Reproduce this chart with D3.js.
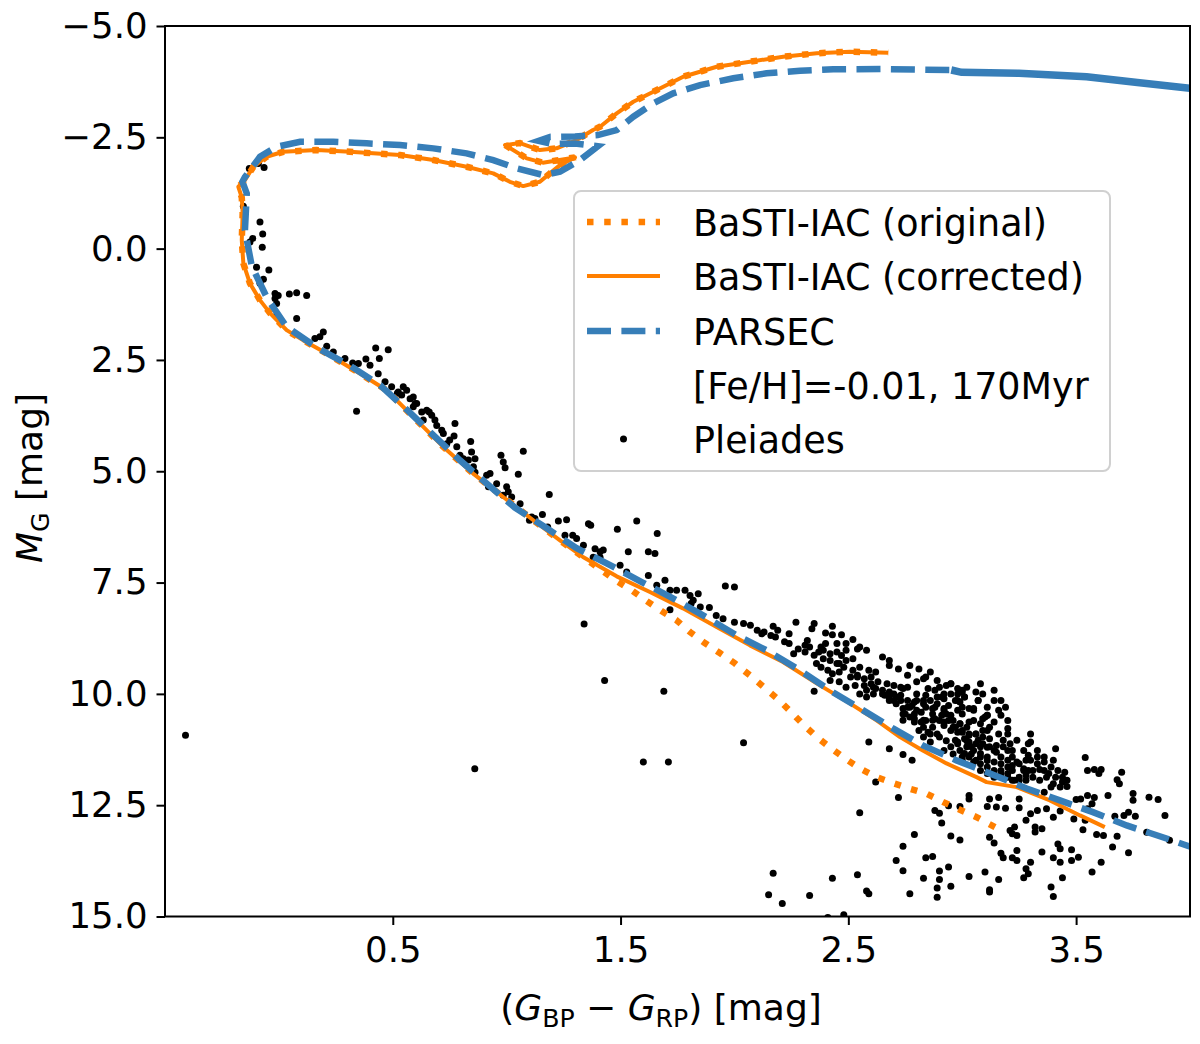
<!DOCTYPE html>
<html>
<head>
<meta charset="utf-8">
<script src="https://cdn.jsdelivr.net/npm/d3@7"></script>
<style>
  body { margin: 0; background: #fff; }
  text { font-family: "DejaVu Sans", sans-serif; fill: #000; }
</style>
</head>
<body>
<svg id="chart" width="1200" height="1044"></svg>
<script>
// axis ticks
var xTicks = [0.5, 1.5, 2.5, 3.5];
var yTicks = [-5, -2.5, 0, 2.5, 5, 7.5, 10, 12.5, 15];

var legendLabels = ["BaSTI-IAC (original)", "BaSTI-IAC (corrected)", "PARSEC",
	"[Fe/H]=-0.01, 170Myr", "Pleiades"];

// BaSTI-IAC isochrone above the point where original and corrected split;
// [BP-RP, M_G], ordered from the upper main sequence to the AGB end
var bastiUpper = [
	[1.335, 6.926], [1.234, 6.551], [1.117, 6.101], [0.985, 5.578], [0.853, 5.052],
	[0.722, 4.454], [0.590, 3.780], [0.473, 3.180], [0.356, 2.804], [0.210, 2.355],
	[0.106, 2.056], [0.034, 1.831], [-0.039, 1.449], [-0.083, 1.157], [-0.127, 0.782],
	[-0.156, 0.333], [-0.163, -0.191], [-0.159, -0.791], [-0.163, -1.15], [-0.178, -1.389],
	[-0.149, -1.539], [-0.112, -1.838], [-0.054, -2.063], [0.019, -2.175], [0.166, -2.213],
	[0.312, -2.175], [0.532, -2.101], [0.678, -1.989], [0.824, -1.838], [0.941, -1.690],
	[1.014, -1.501], [1.073, -1.404], [1.146, -1.501], [1.190, -1.690], [1.234, -1.876],
	[1.300, -2.050], [1.219, -1.980], [1.159, -1.930], [1.088, -2.027], [0.993, -2.326],
	[1.058, -2.371], [1.146, -2.213], [1.219, -2.252], [1.307, -2.438], [1.379, -2.663],
	[1.410, -2.737], [1.483, -3.038], [1.556, -3.299], [1.644, -3.524], [1.775, -3.861],
	[1.922, -4.085], [2.068, -4.198], [2.214, -4.310], [2.361, -4.387], [2.507, -4.422],
	[2.675, -4.400]
];

// low-mass ends, faint end first
var bastiOriginalLow = [
	[3.144, 12.993], [3.063, 12.769], [2.990, 12.602], [2.917, 12.431], [2.844, 12.243],
	[2.770, 12.130], [2.697, 12.004], [2.624, 11.870], [2.551, 11.674], [2.485, 11.449],
	[2.419, 11.202], [2.361, 10.966], [2.301, 10.685], [2.244, 10.382], [2.187, 10.101],
	[2.125, 9.831], [2.068, 9.584], [2.002, 9.315], [1.936, 9.083], [1.870, 8.858],
	[1.805, 8.611], [1.746, 8.348], [1.680, 8.139], [1.615, 7.915], [1.549, 7.674],
	[1.478, 7.449]
];

var bastiCorrectedLow = [
	[3.626, 12.993], [3.517, 12.730], [3.385, 12.393], [3.239, 12.094], [3.107, 11.982],
	[3.063, 11.870], [2.931, 11.562], [2.827, 11.270], [2.727, 10.971], [2.624, 10.596],
	[2.507, 10.213], [2.361, 9.764], [2.213, 9.285], [2.068, 8.910], [1.922, 8.499],
	[1.774, 8.079], [1.629, 7.712], [1.483, 7.360]
];

// PARSEC isochrone, faint end first
var parsecTrack = [
	[4.05, 13.52], [3.897, 13.247], [3.722, 12.955], [3.574, 12.656], [3.429, 12.393],
	[3.283, 12.124], [3.122, 11.787], [2.975, 11.494], [2.827, 11.157], [2.696, 10.775],
	[2.551, 10.326], [2.419, 9.921], [2.288, 9.472], [2.141, 9.022], [2.010, 8.685],
	[1.862, 8.236], [1.730, 7.854], [1.593, 7.488], [1.439, 7.067], [1.307, 6.730],
	[1.176, 6.281], [1.036, 5.816], [0.912, 5.276], [0.795, 4.753], [0.678, 4.191],
	[0.564, 3.629], [0.444, 3.067], [0.309, 2.618], [0.173, 2.243], [0.034, 1.757],
	[-0.051, 1.119], [-0.119, 0.393], [-0.149, -0.416], [-0.141, -1.240], [-0.160, -1.500],
	[-0.149, -1.607], [-0.083, -2.063], [-0.010, -2.288], [0.093, -2.400], [0.239, -2.400],
	[0.385, -2.364], [0.532, -2.326], [0.678, -2.252], [0.824, -2.139], [0.941, -1.989],
	[1.044, -1.802], [1.161, -1.652], [1.234, -1.726], [1.322, -1.989], [1.400, -2.300],
	[1.300, -2.360], [1.200, -2.350], [1.140, -2.420], [1.190, -2.510], [1.300, -2.520],
	[1.400, -2.550], [1.483, -2.663], [1.556, -2.962], [1.644, -3.263], [1.731, -3.488],
	[1.849, -3.674], [1.995, -3.825], [2.141, -3.937], [2.288, -3.996], [2.434, -4.027],
	[2.653, -4.034], [2.952, -4.011]
];

// thermally pulsing AGB part, so dense in the original that the dashes close up
var parsecTpAgb = [
	[2.952, -4.011], [2.997, -3.960], [3.249, -3.937], [3.546, -3.861], [3.769, -3.733],
	[4.000, -3.602], [4.050, -3.570]
];

// Pleiades members, [BP-RP, M_G]
var pleiades = [
	[-0.41, 10.93], [-0.13, -1.80], [-0.09, -1.91], [-0.065, -1.82],
	[-0.083, -0.60], [-0.071, -0.33], [-0.073, -0.03], [-0.115, -0.23], [-0.127, -0.15],
	[-0.156, -0.95], [-0.098, 0.42], [-0.044, 0.48], [-0.068, 0.69], [-0.083, 0.78],
	[-0.017, 1.01], [-0.003, 1.05], [-0.010, 1.23], [-0.017, 1.12], [0.046, 1.02],
	[0.078, 0.99], [0.122, 1.05], [0.078, 1.57], [-0.010, 1.50], [0.158, 2.02],
	[0.195, 1.87], [0.180, 1.98], [0.210, 2.19], [0.239, 2.32], [0.290, 2.47],
	[0.324, 2.57], [0.349, 2.58], [0.382, 2.48], [0.425, 2.23], [0.441, 2.47],
	[0.480, 2.27], [0.400, 2.62], [0.436, 2.81], [0.341, 3.65],
	[0.466, 2.99], [0.524, 3.22], [0.546, 3.10], [0.561, 3.18], [0.539, 3.29],
	[0.576, 3.37], [0.590, 3.33], [0.598, 3.48], [0.590, 3.55], [0.627, 3.67],
	[0.649, 3.63], [0.671, 3.74], [0.634, 3.85], [0.693, 3.97], [0.715, 4.08],
	[0.722, 4.15], [0.773, 3.93], [0.769, 4.21], [0.737, 4.38], [0.781, 4.45],
	[0.795, 4.64], [0.842, 4.33], [0.846, 4.57], [0.861, 4.72], [0.832, 4.75],
	[0.854, 4.90], [0.861, 5.02], [0.912, 5.09], [0.927, 5.05], [0.956, 5.28],
	[0.975, 4.64], [0.985, 4.79], [0.993, 4.92], [1.073, 4.55], [1.051, 5.07],
	[1.000, 5.35], [1.007, 5.46], [0.985, 5.54], [1.022, 5.58], [1.059, 5.73],
	[1.110, 6.03], [1.124, 6.06], [1.157, 5.97], [1.187, 5.52], [1.227, 6.12],
	[1.263, 6.09], [1.256, 6.44], [1.290, 6.44], [1.307, 6.51], [1.337, 6.66],
	[1.359, 6.18], [1.369, 6.21], [1.388, 6.74], [1.410, 6.81], [1.424, 6.77],
	[1.380, 6.93], [1.410, 6.93], [1.486, 6.30], [1.534, 6.81], [1.571, 6.12],
	[1.661, 6.40], [1.622, 6.81], [1.651, 6.85], [1.498, 7.11], [1.527, 7.26],
	[1.622, 7.34], [1.695, 7.45], [1.659, 7.56], [1.717, 7.67], [1.746, 7.67],
	[1.783, 7.67], [1.805, 7.79], [1.841, 7.75], [1.819, 7.90], [1.717, 8.11],
	[0.495, 3.10], [0.52, 3.25], [0.605, 3.48], [0.66, 3.67], [0.685, 3.85],
	[0.75, 4.30], [0.81, 4.72], [0.92, 5.35], [1.10, 6.10], [1.18, 6.25],
	[1.34, 8.43], [1.43, 9.70], [1.69, 9.94], [0.86, 11.68], [1.60, 11.53],
	[1.71, 11.53], [1.96, 7.58], [2.00, 7.60],
	[1.81, 7.97], [1.85, 8.05], [1.89, 8.06], [1.92, 8.24], [1.95, 8.31],
	[2.00, 8.39], [2.04, 8.42], [2.07, 8.46], [2.10, 8.57], [2.13, 8.61],
	[2.17, 8.48], [2.18, 8.72], [2.16, 8.69], [2.24, 8.65], [2.27, 8.39],
	[2.24, 8.87], [2.28, 8.99], [2.31, 9.06], [2.26, 9.10], [2.32, 8.80],
	[2.34, 8.54], [2.35, 8.42], [2.40, 8.63], [2.43, 8.48], [2.43, 8.67],
	[2.47, 8.67], [2.52, 8.78], [2.40, 8.87], [2.42, 9.10], [2.45, 9.06],
	[2.49, 9.02], [2.54, 8.99], [2.55, 8.95], [2.58, 9.02], [2.39, 9.21],
	[2.42, 9.25], [2.45, 9.32], [2.48, 9.40], [2.49, 9.25], [2.35, 9.13],
	[2.36, 9.32], [2.41, 9.47], [2.43, 9.55], [2.46, 9.51], [2.51, 9.62],
	[2.54, 9.58], [2.57, 9.66], [2.59, 9.47], [2.60, 9.77], [2.63, 9.73],
	[2.57, 9.81], [2.58, 9.92], [2.62, 9.88], [2.65, 9.17], [2.68, 9.25],
	[2.68, 9.36], [2.72, 9.44], [2.77, 9.36], [2.86, 9.51], [2.35, 9.94],
	[2.04, 11.10], [2.59, 11.08], [2.62, 11.98], [2.61, 9.85], [2.55, 9.40],
	[2.52, 9.21], [2.47, 9.14], [2.37, 9.06], [2.38, 8.95], [2.31, 8.91],
	[2.22, 8.83], [2.12, 8.65], [2.19, 8.57], [2.45, 8.87], [2.49, 8.87],
	[2.54, 9.62], [2.52, 9.47], [2.60, 9.62], [2.62, 9.51], [2.76, 9.58],
	[2.81, 9.44], [2.84, 9.62], [2.89, 9.70],
	[2.38, 9.40], [2.42, 9.70], [2.46, 9.73], [2.49, 9.85], [2.53, 9.81],
	[2.55, 10.00], [2.58, 10.07], [2.46, 9.32], [2.39, 9.02], [2.33, 8.95],
	[2.80, 9.73], [2.83, 9.66], [2.85, 9.88], [2.89, 10.07], [2.92, 10.00],
	[2.95, 9.77], [3.00, 9.92], [3.01, 10.07], [3.07, 10.15], [2.98, 10.15],
	[3.00, 10.30], [3.05, 10.33], [3.09, 10.56], [3.11, 10.48], [2.83, 10.22],
	[2.80, 10.37], [2.76, 10.15], [2.77, 10.30], [2.74, 10.45], [2.79, 10.56],
	[2.83, 10.59], [2.87, 10.59], [2.92, 10.63], [2.96, 10.75], [2.99, 10.67],
	[3.03, 10.90], [3.06, 10.90], [3.09, 10.97], [2.83, 10.75], [2.86, 10.90],
	[2.90, 10.97], [2.93, 11.05], [2.98, 11.12], [3.02, 11.05], [3.06, 11.12],
	[3.11, 11.20], [2.92, 11.27], [2.96, 11.35], [3.00, 11.42], [3.04, 11.35],
	[3.08, 11.42], [3.11, 11.50], [2.74, 10.59], [2.68, 10.15], [2.61, 10.00],
	[2.88, 10.30], [2.92, 10.37], [2.95, 10.48], [2.65, 10.00], [2.68, 9.96],
	[2.71, 10.07], [2.74, 9.88],
	[2.55, 12.67], [2.17, 14.03], [2.15, 14.51], [2.21, 14.71], [2.33, 14.53],
	[2.43, 14.14], [2.54, 14.06], [2.58, 14.43], [2.59, 14.49], [2.48, 14.96],
	[2.41, 15.02],
	[2.68, 11.23], [2.74, 11.36], [2.78, 11.49], [2.72, 12.33], [2.79, 13.16],
	[2.74, 13.42], [2.71, 13.74], [2.74, 13.97], [2.77, 14.49], [2.83, 14.14],
	[2.84, 13.68], [2.87, 13.65], [2.90, 13.98], [2.90, 14.17], [2.89, 14.36],
	[2.89, 14.57], [2.95, 14.32], [2.94, 13.89], [2.95, 13.19], [2.99, 13.28],
	[2.91, 12.90], [2.88, 12.62], [2.90, 12.68], [2.94, 12.51], [2.99, 12.53],
	[3.03, 12.28], [3.03, 12.36], [3.03, 14.10], [3.10, 14.00], [3.12, 14.40],
	[3.12, 14.45], [3.16, 14.17], [3.12, 13.22], [3.14, 13.35], [3.11, 12.53],
	[3.15, 12.54], [3.19, 12.57], [3.12, 12.36], [3.16, 12.33], [3.17, 13.58],
	[3.18, 13.68], [3.22, 13.68], [3.24, 13.74], [3.24, 13.52], [3.21, 13.07],
	[3.22, 13.14], [3.23, 12.99], [3.24, 13.18], [3.25, 12.56], [3.25, 12.36],
	[3.28, 12.84], [3.30, 12.69], [3.30, 13.78], [3.28, 13.93], [3.29, 14.04],
	[3.27, 14.13], [3.32, 12.99], [3.32, 13.10], [3.35, 13.03], [3.35, 13.55],
	[3.33, 12.62], [3.37, 12.58], [3.40, 13.68], [3.43, 13.78], [3.42, 13.37],
	[3.43, 13.48], [3.39, 14.34], [3.40, 14.55], [3.44, 14.13], [3.48, 13.50],
	[3.48, 13.74], [3.51, 13.67], [3.40, 12.77], [3.43, 12.63], [3.49, 12.81],
	[3.53, 13.05], [3.54, 12.84], [3.57, 14.00], [3.61, 13.78], [3.59, 13.16],
	[3.62, 13.18], [3.66, 13.44], [3.68, 13.20], [3.73, 13.57], [3.67, 12.75],
	[3.71, 12.73], [3.73, 12.66], [3.76, 12.75], [3.81, 13.11], [3.89, 12.73],
	[3.91, 13.29], [3.50, 12.37], [3.52, 12.36], [3.55, 12.28], [3.58, 12.33],
	[3.57, 12.47], [3.55, 12.58], [3.64, 12.28], [3.75, 12.24], [3.75, 12.39],
	[3.82, 12.32], [3.86, 12.37], [3.54, 11.43], [3.55, 11.72], [3.58, 11.70],
	[3.61, 11.70], [3.60, 11.79], [3.68, 11.93], [3.69, 12.02], [3.70, 11.76],
	[3.41, 11.23], [3.40, 11.49], [3.36, 11.42], [3.34, 11.70], [3.30, 10.90],
	[3.29, 11.12], [3.27, 11.72], [3.45, 11.94], [3.46, 12.08], [3.43, 12.09],
	[3.39, 12.09], [3.36, 12.21],
	[2.65, 9.92], [2.70, 10.00], [2.73, 10.03], [2.75, 10.45], [2.79, 10.18],
	[2.82, 10.41], [2.84, 10.30], [2.87, 10.45], [2.88, 9.92], [2.90, 9.85],
	[2.91, 10.07], [2.93, 9.81], [2.95, 9.77], [2.99, 10.18], [3.00, 9.96],
	[3.01, 10.07], [3.03, 10.33], [3.05, 10.37], [3.07, 10.15], [3.08, 10.67],
	[3.10, 10.52], [3.11, 10.48], [3.12, 10.75], [3.16, 10.37], [3.17, 10.48],
	[3.20, 10.60], [3.20, 10.78], [3.20, 10.90], [3.15, 11.16], [3.12, 11.01],
	[3.09, 11.12], [3.06, 10.90], [3.03, 10.93], [3.02, 11.19], [2.99, 11.27],
	[2.97, 11.04], [2.95, 10.82], [2.92, 10.71], [2.90, 10.60], [2.87, 10.75],
	[2.85, 10.86], [2.83, 10.97], [2.81, 10.82], [2.79, 10.63], [2.77, 10.52],
	[2.74, 10.33], [2.71, 10.22], [2.68, 10.11], [2.66, 10.03], [2.93, 10.45],
	[2.96, 10.60], [2.99, 10.67], [3.02, 10.75], [3.05, 10.60], [3.08, 11.34],
	[3.11, 11.42], [3.14, 11.27], [3.17, 11.42], [3.20, 11.27], [3.22, 11.42],
	[3.25, 11.57], [3.28, 11.49], [3.22, 11.72], [3.20, 11.64], [3.17, 11.57],
	[3.14, 11.53], [3.11, 11.64], [3.08, 11.72], [3.25, 11.87], [3.28, 11.94],
	[3.31, 11.87], [3.34, 11.94], [3.37, 11.87], [3.40, 12.02], [3.46, 11.94],
	[3.44, 11.87], [3.42, 11.72], [3.39, 11.64], [3.36, 11.53], [3.33, 11.42],
	[3.31, 11.72], [3.29, 11.72], [3.27, 11.27], [3.24, 11.04], [3.21, 11.12],
	[3.30, 11.08], [3.00, 10.86], [3.03, 10.63], [2.98, 10.37], [2.94, 10.26],
	[2.92, 10.33], [2.89, 10.90], [2.86, 11.08], [3.04, 11.19], [3.06, 11.49],
	[3.03, 11.42], [3.01, 11.01], [2.98, 10.86], [3.14, 11.72], [3.17, 11.79],
	[3.20, 11.87], [3.23, 11.94], [3.16, 10.90], [3.18, 11.04], [3.09, 10.82],
	[3.11, 10.30], [3.14, 10.15], [3.00, 10.45], [2.98, 10.00], [2.83, 10.15],
	[2.80, 10.00], [2.73, 9.85],
	[2.67, 9.77], [2.70, 9.81], [2.76, 9.85], [2.78, 10.26], [2.80, 10.15],
	[2.84, 10.03], [2.86, 10.15], [2.87, 10.33], [2.89, 10.22], [2.92, 10.11],
	[2.95, 10.00], [2.97, 10.15], [2.98, 9.88], [3.02, 9.85], [3.06, 9.96],
	[3.08, 9.77], [3.09, 10.00], [3.14, 9.92], [3.17, 10.15], [3.19, 10.30],
	[3.14, 10.63], [3.11, 10.82], [3.07, 11.04], [3.03, 11.08], [3.00, 10.82],
	[2.97, 10.75], [2.94, 10.60], [2.91, 10.48], [2.88, 10.56], [2.84, 10.60],
	[2.82, 10.63], [2.79, 10.45], [2.76, 10.30], [2.73, 10.15], [2.70, 10.15],
	[2.68, 10.00], [2.95, 11.19], [2.98, 11.08], [3.01, 11.34], [3.05, 11.27],
	[3.08, 11.19], [3.12, 11.19], [3.15, 11.31], [3.18, 11.19], [3.22, 11.27],
	[3.24, 11.53], [3.27, 11.68], [3.22, 11.61], [3.20, 11.49], [3.17, 11.72],
	[3.14, 11.87], [3.11, 11.79], [3.08, 11.57], [3.05, 11.53], [3.00, 11.49],
	[3.29, 11.38], [3.33, 11.57], [3.36, 11.72], [3.38, 11.79], [3.41, 11.87],
	[3.44, 11.98], [3.45, 11.76], [3.33, 11.27], [3.30, 11.49], [3.28, 11.83],
	[3.25, 11.94], [3.22, 11.94], [3.20, 11.79]
];

var blue = "#377eb8";
var orange = "#ff7f00";
var tickFontSize = 35.5;
var legendFontSize = 36.5;
var labelFontSize = 36;

var plot = {left: 165, right: 1190, top: 26, bottom: 916.5};

var x = d3.scaleLinear().domain([-0.5, 4.0]).range([plot.left, plot.right]);
var y = d3.scaleLinear().domain([-5, 15]).range([plot.top, plot.bottom]);

var svg = d3.select("#chart");

svg.append("defs").append("clipPath")
	.attr("id", "plotclip")
	.append("rect")
	.attr("x", plot.left)
	.attr("y", plot.top)
	.attr("width", plot.right - plot.left)
	.attr("height", plot.bottom - plot.top);

var line = d3.line()
	.x(function (d) { return x(d[0]); })
	.y(function (d) { return y(d[1]); });

var gData = svg.append("g").attr("clip-path", "url(#plotclip)");

// stars first, the isochrones sit on top of them
gData.selectAll("circle.star")
	.data(pleiades)
	.enter().append("circle")
	.attr("class", "star")
	.attr("cx", function (d) { return x(d[0]); })
	.attr("cy", function (d) { return y(d[1]); })
	.attr("r", 3.5)
	.attr("fill", "#000");

gData.append("path")
	.datum(bastiOriginalLow.concat(bastiUpper))
	.attr("d", line)
	.attr("fill", "none")
	.attr("stroke", orange)
	.attr("stroke-width", 6.5)
	.attr("stroke-dasharray", "6.5,10.7");

gData.append("path")
	.datum(bastiCorrectedLow.concat(bastiUpper))
	.attr("d", line)
	.attr("fill", "none")
	.attr("stroke", orange)
	.attr("stroke-width", 4)
	.attr("stroke-linejoin", "round");

gData.append("path")
	.datum(parsecTrack)
	.attr("d", line)
	.attr("fill", "none")
	.attr("stroke", blue)
	.attr("stroke-width", 6.5)
	.attr("stroke-dasharray", "24,10.4");

gData.append("path")
	.datum(parsecTpAgb)
	.attr("d", line)
	.attr("fill", "none")
	.attr("stroke", blue)
	.attr("stroke-width", 7.5);

// axes
var xAxis = d3.axisBottom(x)
	.tickValues(xTicks)
	.tickFormat(d3.format(".1f"))
	.tickSize(8.5)
	.tickSizeOuter(0)
	.tickPadding(12);

var yAxis = d3.axisLeft(y)
	.tickValues(yTicks)
	.tickFormat(d3.format(".1f"))
	.tickSize(8.5)
	.tickSizeOuter(0)
	.tickPadding(9);

var gx = svg.append("g")
	.attr("transform", "translate(0," + plot.bottom + ")")
	.call(xAxis);
var gy = svg.append("g")
	.attr("transform", "translate(" + plot.left + ",0)")
	.call(yAxis);

[gx, gy].forEach(function (g) {
	g.select(".domain").remove();
	g.selectAll(".tick line").attr("stroke", "#000").attr("stroke-width", 2);
	g.selectAll(".tick text")
		.attr("font-size", tickFontSize + "px")
		.attr("font-family", "DejaVu Sans")
		.attr("fill", "#000");
});

// frame
svg.append("rect")
	.attr("x", plot.left)
	.attr("y", plot.top)
	.attr("width", plot.right - plot.left)
	.attr("height", plot.bottom - plot.top)
	.attr("fill", "none")
	.attr("stroke", "#000")
	.attr("stroke-width", 2);

// axis labels
var subSize = labelFontSize * 0.7;
var xLabel = svg.append("text")
	.attr("x", 661)
	.attr("y", 1020)
	.attr("text-anchor", "middle")
	.attr("font-size", labelFontSize + "px");
xLabel.append("tspan").text("(");
xLabel.append("tspan").attr("font-style", "italic").text("G");
xLabel.append("tspan").attr("font-size", subSize + "px").attr("dy", 7).text("BP");
xLabel.append("tspan").attr("dy", -7).text(" \u2212 ");
xLabel.append("tspan").attr("font-style", "italic").text("G");
xLabel.append("tspan").attr("font-size", subSize + "px").attr("dy", 7).text("RP");
xLabel.append("tspan").attr("dy", -7).text(") [mag]");

var yLabel = svg.append("text")
	.attr("transform", "translate(42,478) rotate(-90)")
	.attr("text-anchor", "middle")
	.attr("font-size", labelFontSize + "px");
yLabel.append("tspan").attr("font-style", "italic").text("M");
yLabel.append("tspan").attr("font-size", subSize + "px").attr("dy", 7).text("G");
yLabel.append("tspan").attr("dy", -7).text(" [mag]");

// legend
var gLegend = svg.append("g");
gLegend.append("rect")
	.attr("x", 574)
	.attr("y", 191)
	.attr("width", 536)
	.attr("height", 280)
	.attr("rx", 7)
	.attr("fill", "#fff")
	.attr("fill-opacity", 0.8)
	.attr("stroke", "#d0d0d0")
	.attr("stroke-width", 2);

var rowY = [222, 276, 331, 385, 439];
var handleX0 = 587, handleX1 = 660;

gLegend.append("line")
	.attr("x1", handleX0).attr("x2", handleX1)
	.attr("y1", rowY[0]).attr("y2", rowY[0])
	.attr("stroke", orange).attr("stroke-width", 6.5)
	.attr("stroke-dasharray", "6.5,10.7");
gLegend.append("line")
	.attr("x1", handleX0).attr("x2", handleX1)
	.attr("y1", rowY[1]).attr("y2", rowY[1])
	.attr("stroke", orange).attr("stroke-width", 4);
gLegend.append("line")
	.attr("x1", handleX0).attr("x2", handleX1)
	.attr("y1", rowY[2]).attr("y2", rowY[2])
	.attr("stroke", blue).attr("stroke-width", 6.5)
	.attr("stroke-dasharray", "24,10.4");
gLegend.append("circle")
	.attr("cx", (handleX0 + handleX1) / 2)
	.attr("cy", rowY[4])
	.attr("r", 3.5)
	.attr("fill", "#000");

gLegend.selectAll("text.legend-label")
	.data(legendLabels)
	.enter().append("text")
	.attr("class", "legend-label")
	.attr("x", 693)
	.attr("y", function (d, i) { return rowY[i]; })
	.attr("dy", "0.37em")
	.attr("font-size", legendFontSize + "px")
	.text(function (d) { return d; });
</script>
</body>
</html>
